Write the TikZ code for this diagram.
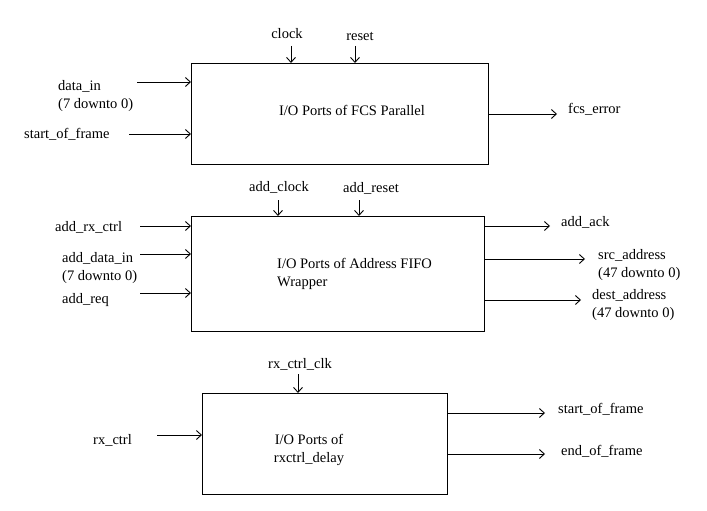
\documentclass[tikz,border=0pt]{standalone}
\usepackage{fontspec}
\setmainfont{Liberation Serif}
\usetikzlibrary{arrows.meta}
\begin{document}
\begin{tikzpicture}[x=1pt,y=-1pt,
  box/.style={draw, line width=1pt, anchor=north west, inner sep=0pt},
  lbl/.style={inner sep=0pt, font=\fontsize{14.5}{18}\selectfont},
  arr/.style={line width=0.9pt, -{Straight Barb[length=5pt,width=9pt,line width=0.9pt]}}]
\useasboundingbox (0,0) rectangle (707,511);
% ---------- Box 1 ----------
\node[box, minimum width=297pt, minimum height=101pt] (b1) at (191,63) {};
\node[lbl] (t1) at (352,110) {I/O Ports of FCS Parallel};
\node[lbl] (lclock) at (287,34) {clock};
\node[lbl] (lreset) at (360,36) {reset};
\coordinate (cclock) at (291,46);
\coordinate (creset) at (355,46);
\draw[arr] (cclock) -- (cclock |- b1.north);
\draw[arr] (creset) -- (creset |- b1.north);
\node[lbl, anchor=west, align=left] (ldata) at (58,96) {data\_in\\(7 downto 0)};
\coordinate (cdata) at (137,82);
\draw[arr] (cdata) -- (cdata -| b1.west);
\node[lbl, anchor=west] (lsof) at (24,134) {start\_of\_frame};
\coordinate (csof) at (129,134);
\draw[arr] (csof) -- (csof -| b1.west);
\coordinate (cfcs) at (557,114);
\draw[arr] (cfcs -| b1.east) -- (cfcs);
\node[lbl, anchor=west] (lfcs) at (568,109) {fcs\_error};
% ---------- Box 2 ----------
\node[box, minimum width=293pt, minimum height=115pt] (b2) at (191,216) {};
\node[lbl, anchor=west, align=left] (t2) at (277,273.5) {I/O Ports of Address FIFO\\Wrapper};
\node[lbl] (laclk) at (279,187) {add\_clock};
\node[lbl] (larst) at (371,188) {add\_reset};
\coordinate (caclk) at (278,200);
\coordinate (carst) at (359,200);
\draw[arr] (caclk) -- (caclk |- b2.north);
\draw[arr] (carst) -- (carst |- b2.north);
\node[lbl, anchor=west] (lrx) at (55,227) {add\_rx\_ctrl};
\coordinate (crx) at (140,226);
\draw[arr] (crx) -- (crx -| b2.west);
\node[lbl, anchor=west, align=left] (ladata) at (62,268.5) {add\_data\_in\\(7 downto 0)};
\coordinate (cadata) at (140,254);
\draw[arr] (cadata) -- (cadata -| b2.west);
\node[lbl, anchor=west] (lreq) at (62,300) {add\_req};
\coordinate (creq) at (140,293);
\draw[arr] (creq) -- (creq -| b2.west);
\coordinate (cack) at (550,226);
\draw[arr] (cack -| b2.east) -- (cack);
\node[lbl, anchor=west] (lack) at (561,222) {add\_ack};
\coordinate (csrc) at (585,259);
\draw[arr] (csrc -| b2.east) -- (csrc);
\node[lbl, anchor=west, align=left] (lsrc) at (598,265) {src\_address\\(47 downto 0)};
\coordinate (cdst) at (581,300);
\draw[arr] (cdst -| b2.east) -- (cdst);
\node[lbl, anchor=west, align=left] (ldst) at (592,305) {dest\_address\\(47 downto 0)};
% ---------- Box 3 ----------
\node[box, minimum width=245pt, minimum height=101pt] (b3) at (202,393) {};
\node[lbl, align=center] (t3) at (309,450) {I/O Ports of\\rxctrl\_delay};
\node[lbl] (lrxclk) at (300,364) {rx\_ctrl\_clk};
\coordinate (crxclk) at (298,374);
\draw[arr] (crxclk) -- (crxclk |- b3.north);
\node[lbl, anchor=west] (lrxc) at (93,440) {rx\_ctrl};
\coordinate (crxc) at (157,435);
\draw[arr] (crxc) -- (crxc -| b3.west);
\coordinate (csof2) at (545,413);
\draw[arr] (csof2 -| b3.east) -- (csof2);
\node[lbl, anchor=west] (lsof2) at (558,409) {start\_of\_frame};
\coordinate (ceof) at (545,454);
\draw[arr] (ceof -| b3.east) -- (ceof);
\node[lbl, anchor=west] (leof) at (561,451) {end\_of\_frame};
\end{tikzpicture}
\end{document}
